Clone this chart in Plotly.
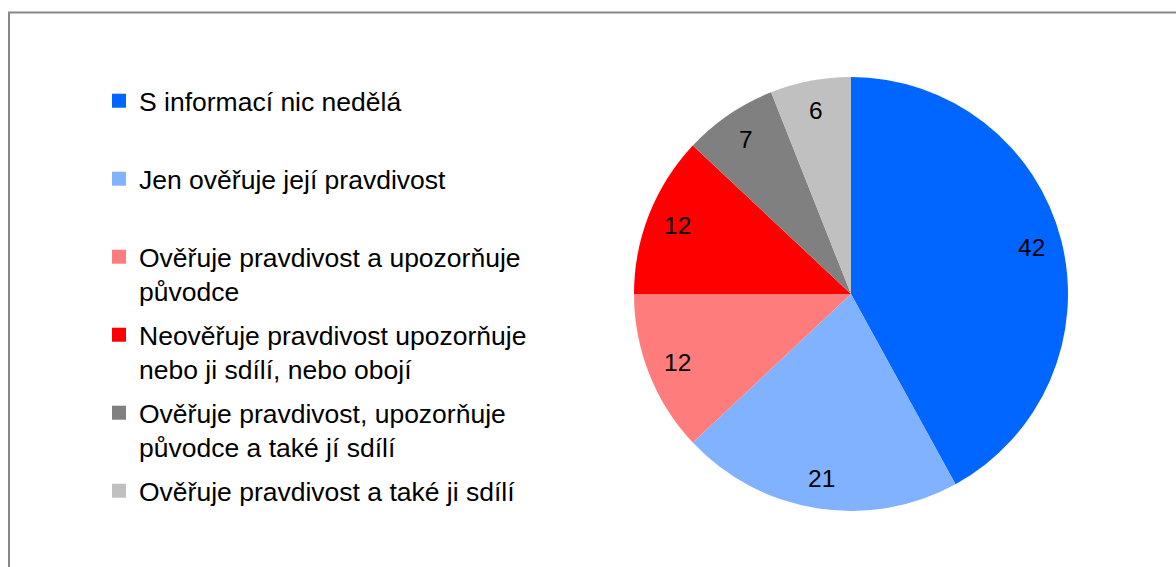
import math
import plotly.graph_objects as go

labels = [
    "S informací nic nedělá",
    "Jen ověřuje její pravdivost",
    "Ověřuje pravdivost a upozorňuje<br>původce",
    "Neověřuje pravdivost upozorňuje<br>nebo ji sdílí, nebo obojí",
    "Ověřuje pravdivost, upozorňuje<br>původce a také jí sdílí",
    "Ověřuje pravdivost a také ji sdílí",
]
values = [42, 21, 12, 12, 7, 6]
colors = ["#0066FF", "#80B2FF", "#FF7C7C", "#FF0000", "#808080", "#C0C0C0"]

W, H = 1176, 567
FONT = "Arial, Liberation Sans, sans-serif"
LEG_SIZE = 26.5

# pie geometry (pixels)
cx, cy_top, R = 851, 294, 217
cy = H - cy_top

fig = go.Figure()
fig.add_trace(go.Pie(
    labels=[l.replace("<br>", " ") for l in labels], values=values, sort=False,
    direction="clockwise", rotation=0,
    marker=dict(colors=colors, line=dict(width=0)),
    textinfo="none", showlegend=False, hoverinfo="label+value",
    domain=dict(x=[(cx - R) / W, (cx + R) / W], y=[(cy - R) / H, (cy + R) / H]),
))

# legend entries (one group each so spacing is even)
for i, (lab, col) in enumerate(zip(labels, colors)):
    name = lab if "<br>" in lab or i == len(labels) - 1 else lab + "<br> "
    fig.add_trace(go.Scatter(
        x=[None], y=[None], mode="markers", name=name, legendgroup=f"g{i}",
        marker=dict(symbol="square", size=14, color=col),
        showlegend=True, hoverinfo="skip",
    ))

# value labels at slice mid-angles
total = sum(values)
cum = 0
for v in values:
    mid = (cum + v / 2) / total
    cum += v
    th = 2 * math.pi * mid
    px = cx + 0.86 * R * math.sin(th)
    py = cy + 0.86 * R * math.cos(th)
    fig.add_annotation(x=px / W, y=py / H, xref="paper", yref="paper", text=str(v),
                       xanchor="center", yanchor="middle",
                       showarrow=False, font=dict(size=24.5, color="black", family=FONT))

fig.add_shape(type="rect", xref="paper", yref="paper",
              x0=9 / W, x1=1.05, y0=-0.05, y1=(H - 12.5) / H,
              line=dict(color="#888888", width=2), fillcolor="rgba(0,0,0,0)")

fig.update_layout(
    width=W, height=H,
    margin=dict(l=0, r=0, t=0, b=0),
    paper_bgcolor="white", plot_bgcolor="white",
    xaxis=dict(visible=False), yaxis=dict(visible=False),
    font=dict(family=FONT, size=24, color="black"),
    legend=dict(x=99 / W, y=(H - 77) / H, xanchor="left", yanchor="top",
                valign="top", tracegroupgap=6.1,
                font=dict(size=LEG_SIZE, color="black", family=FONT),
                bgcolor="rgba(0,0,0,0)", borderwidth=0),
)

fig.write_html("out.html", config={"displayModeBar": False},
               post_script="document.body.style.margin='0';")
